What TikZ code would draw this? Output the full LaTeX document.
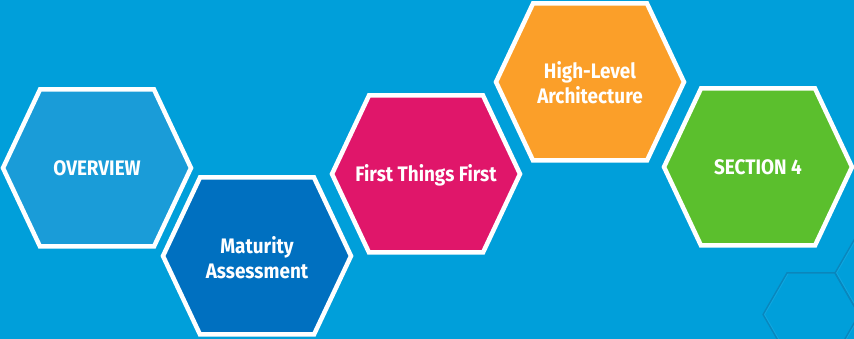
\documentclass[tikz,border=0pt]{standalone}
\usepackage{fontspec}
\setmainfont{Fira Sans}[FakeStretch=0.9]
\definecolor{bgblue}{HTML}{009FDA}
\definecolor{ovcol}{HTML}{1A9CD8}
\definecolor{macol}{HTML}{0070C0}
\definecolor{ficol}{HTML}{E0166A}
\definecolor{hicol}{HTML}{FB9F29}
\definecolor{secol}{HTML}{5BBF2D}
\definecolor{decoline}{HTML}{0A86BC}
\definecolor{decolight}{HTML}{10A6DF}
\def\hexshape{(-94,0) -- (-57,78.5) -- (57,78.5) -- (94,0) -- (57,-78.5) -- (-57,-78.5) -- cycle}
\def\smallhex{(-48,0) -- (-24,41.6) -- (24,41.6) -- (48,0) -- (24,-41.6) -- (-24,-41.6) -- cycle}
\begin{document}
\begin{tikzpicture}[x=1pt,y=1pt,
  hexbox/.style={draw=white, line width=4.5pt, line join=miter},
  hextext/.style={text=white, font=\bfseries\fontsize{21}{25}\selectfont, align=center, inner sep=0pt},
  decor/.style={draw=decoline, line width=1.3pt},
  decorlight/.style={draw=decolight, line width=1pt}]
\fill[bgblue] (0,0) rectangle (854,339);
\useasboundingbox (0,0) rectangle (854,339);
% faint decorative honeycomb, bottom right
\begin{scope}
  \clip (0,0) rectangle (854,339);
  \draw[decorlight, shift={(812.5,24.5)}] \smallhex;
  \draw[decorlight, shift={(884.5,66)}] \smallhex;
  \draw[decor, shift={(811,24.5)}] \smallhex;
  \draw[decor, shift={(883,66)}] \smallhex;
\end{scope}
% main hexagons
\draw[hexbox, fill=ovcol, shift={(97,171)}] \hexshape;
\draw[hexbox, fill=macol, shift={(257,83)}] \hexshape;
\draw[hexbox, fill=ficol, shift={(426,165)}] \hexshape;
\draw[hexbox, fill=hicol, shift={(590,257)}] \hexshape;
\draw[hexbox, fill=secol, shift={(758,172)}] \hexshape;
% labels
\node[hextext, anchor=base] (overview) at (97,163.5) {OVERVIEW};
\node[hextext] (maturity) at (257,81) {Maturity\\Assessment};
\node[hextext, anchor=base] (first) at (426,157.5) {First Things First};
\node[hextext] (high) at (590,256.5) {High-Level\\Architecture};
\node[hextext, anchor=base] (section) at (758,164.5) {SECTION 4};
\end{tikzpicture}
\end{document}
